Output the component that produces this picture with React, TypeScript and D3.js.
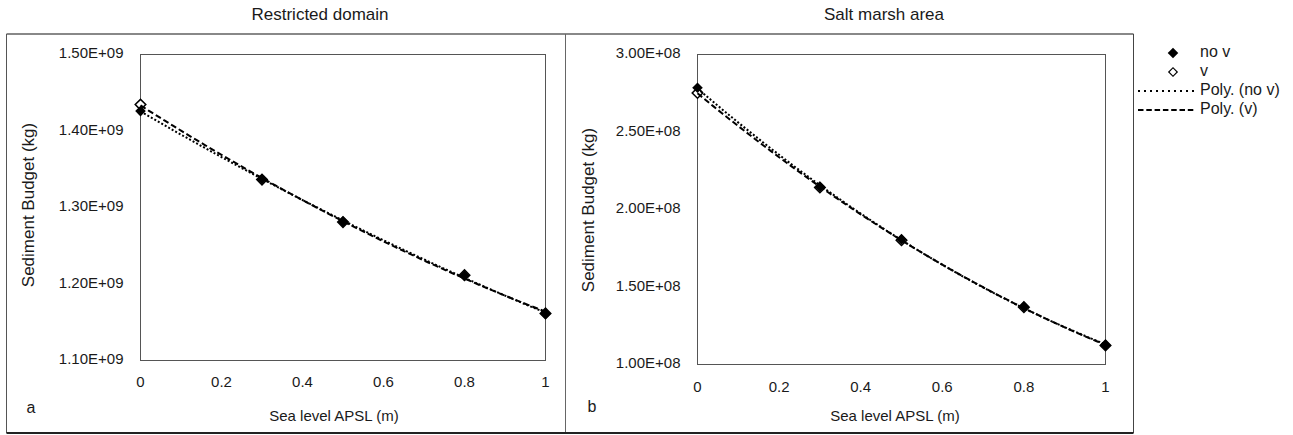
import React from 'react';
import * as d3 from 'd3';

// sea level steps (m)
const seaLevels = [0, 0.3, 0.5, 0.8, 1];

// Restricted domain (kg)
const domainNoV = [1.426e9, 1.337e9, 1.2815e9, 1.211e9, 1.161e9];
const domainV = [1.4345e9, 1.3365e9, 1.281e9, 1.2115e9, 1.1615e9];

// Salt marsh area (kg)
const marshNoV = [2.785e8, 2.146e8, 1.806e8, 1.372e8, 1.125e8];
const marshV = [2.752e8, 2.142e8, 1.802e8, 1.37e8, 1.123e8];

const xTicks = [0, 0.2, 0.4, 0.6, 0.8, 1];
const domainTicks = [1.1e9, 1.2e9, 1.3e9, 1.4e9, 1.5e9];
const domainTickLabels = ['1.10E+09', '1.20E+09', '1.30E+09', '1.40E+09', '1.50E+09'];
const marshTicks = [1.0e8, 1.5e8, 2.0e8, 2.5e8, 3.0e8];
const marshTickLabels = ['1.00E+08', '1.50E+08', '2.00E+08', '2.50E+08', '3.00E+08'];

const FONT = '"Liberation Sans", Arial, sans-serif';

// least squares quadratic, like the Excel "Poly." trendline
function quadFit(xs: number[], ys: number[]) {
  const n = xs.length;
  let s1 = 0, s2 = 0, s3 = 0, s4 = 0, t0 = 0, t1 = 0, t2 = 0;
  for (let i = 0; i < n; i++) {
    const x = xs[i], y = ys[i];
    s1 += x; s2 += x * x; s3 += x * x * x; s4 += x * x * x * x;
    t0 += y; t1 += x * y; t2 += x * x * y;
  }
  const A = [[n, s1, s2], [s1, s2, s3], [s2, s3, s4]];
  const b = [t0, t1, t2];
  const det = (m: number[][]) =>
    m[0][0] * (m[1][1] * m[2][2] - m[1][2] * m[2][1]) -
    m[0][1] * (m[1][0] * m[2][2] - m[1][2] * m[2][0]) +
    m[0][2] * (m[1][0] * m[2][1] - m[1][1] * m[2][0]);
  const D = det(A);
  const coef = [0, 1, 2].map(k => det(A.map((row, i) => row.map((v, j) => (j === k ? b[i] : v)))) / D);
  return (x: number) => coef[0] + coef[1] * x + coef[2] * x * x;
}

type PanelProps = {
  left: number; right: number; top: number; bottom: number;
  yTicks: number[]; yLabels: string[];
  noV: number[]; v: number[];
  title: string; titleX: number;
  yTitleX: number; yTitleY: number;
  xTitleX: number; xTickY: number;
  letter: string; letterX: number; letterY: number;
};

const diamond = d3.symbol().type(d3.symbolSquare).size(56)();

function Panel(p: PanelProps) {
  const x = d3.scaleLinear().domain([0, 1]).range([p.left, p.right]);
  const y = d3.scaleLinear().domain([p.yTicks[0], p.yTicks[p.yTicks.length - 1]]).range([p.bottom, p.top]);
  const samples = d3.range(0, 1.0001, 0.02);
  const line = d3.line<number>().x(d => x(d[0])).y(d => y(d[1])) as any;
  const fitNoV = quadFit(seaLevels, p.noV);
  const fitV = quadFit(seaLevels, p.v);
  const pathNoV = line(samples.map(s => [s, fitNoV(s)]));
  const pathV = line(samples.map(s => [s, fitV(s)]));

  return (
    <g fontFamily={FONT} fill="#1a1a1a">
      <text x={p.titleX} y={16} textAnchor="middle" dominantBaseline="middle" fontSize={17}>{p.title}</text>
      <rect x={p.left} y={p.top} width={p.right - p.left} height={p.bottom - p.top} fill="none" stroke="#555" strokeWidth={1} />
      {p.yTicks.map((t, i) => (
        <text key={t} x={p.left - 17} y={y(t)} textAnchor="end" dominantBaseline="middle" fontSize={15}>{p.yLabels[i]}</text>
      ))}
      {xTicks.map(t => (
        <text key={t} x={x(t)} y={p.xTickY} textAnchor="middle" dominantBaseline="middle" fontSize={15}>{String(t)}</text>
      ))}
      <text transform={`translate(${p.yTitleX},${p.yTitleY}) rotate(-90)`} textAnchor="middle" dominantBaseline="middle" fontSize={17}>Sediment Budget (kg)</text>
      <text x={p.xTitleX} y={417} textAnchor="middle" dominantBaseline="middle" fontSize={15}>Sea level APSL (m)</text>
      <text x={p.letterX} y={p.letterY} textAnchor="middle" dominantBaseline="middle" fontSize={16}>{p.letter}</text>
      {p.v.map((d, i) => (
        <path key={'v' + i} d={diamond} transform={`translate(${x(seaLevels[i])},${y(d)}) rotate(45)`} fill="#fff" stroke="#000" strokeWidth={1.5} />
      ))}
      {p.noV.map((d, i) => (
        <path key={'n' + i} d={diamond} transform={`translate(${x(seaLevels[i])},${y(d)}) rotate(45)`} fill="#000" />
      ))}
      <path d={pathNoV} fill="none" stroke="#000" strokeWidth={2} strokeDasharray="2 2" />
      <path d={pathV} fill="none" stroke="#000" strokeWidth={2} strokeDasharray="6 3" />
    </g>
  );
}

export default function App() {
  const legendItems = ['no v', 'v', 'Poly. (no v)', 'Poly. (v)'];
  return (
    <svg width={1293} height={435} style={{ position: 'absolute', left: 0, top: 0, background: '#fff' }}>
      <rect x={0} y={0} width={1293} height={435} fill="#fff" />
      {/* outer frame */}
      <line x1={6.5} x2={1133.5} y1={34} y2={34} stroke="#888" strokeWidth={2} />
      <line x1={6.5} x2={6.5} y1={34} y2={433} stroke="#555" strokeWidth={1} />
      <line x1={565.5} x2={565.5} y1={34} y2={433} stroke="#666" strokeWidth={1} />
      <line x1={1133.5} x2={1133.5} y1={34} y2={433} stroke="#444" strokeWidth={1} />
      <line x1={6.5} x2={1133.5} y1={433} y2={433} stroke="#222" strokeWidth={2} />

      <Panel left={140.5} right={545.5} top={54.5} bottom={360.5}
        yTicks={domainTicks} yLabels={domainTickLabels}
        noV={domainNoV} v={domainV}
        title="Restricted domain" titleX={320}
        yTitleX={30} yTitleY={205} xTitleX={334} xTickY={383}
        letter="a" letterX={31} letterY={409} />
      <Panel left={697.5} right={1105.5} top={54.5} bottom={364.5}
        yTicks={marshTicks} yLabels={marshTickLabels}
        noV={marshNoV} v={marshV}
        title="Salt marsh area" titleX={884}
        yTitleX={590} yTitleY={210} xTitleX={895} xTickY={388}
        letter="b" letterX={592} letterY={408} />

      {/* legend */}
      <g fontFamily={FONT} fontSize={16} fill="#1a1a1a">
        <path d={diamond} transform="translate(1173,53) rotate(45)" fill="#000" />
        <path d={diamond} transform="translate(1173,72) rotate(45) scale(0.8)" fill="#fff" stroke="#000" strokeWidth={1.5} />
        <line x1={1138} x2={1195} y1={91} y2={91} stroke="#000" strokeWidth={2} strokeDasharray="2 4" />
        <line x1={1138} x2={1195} y1={110} y2={110} stroke="#000" strokeWidth={2} strokeDasharray="5.5 2.8" />
        {legendItems.map((t, i) => (
          <text key={t} x={1200} y={53 + i * 19} dominantBaseline="middle">{t}</text>
        ))}
      </g>
    </svg>
  );
}
